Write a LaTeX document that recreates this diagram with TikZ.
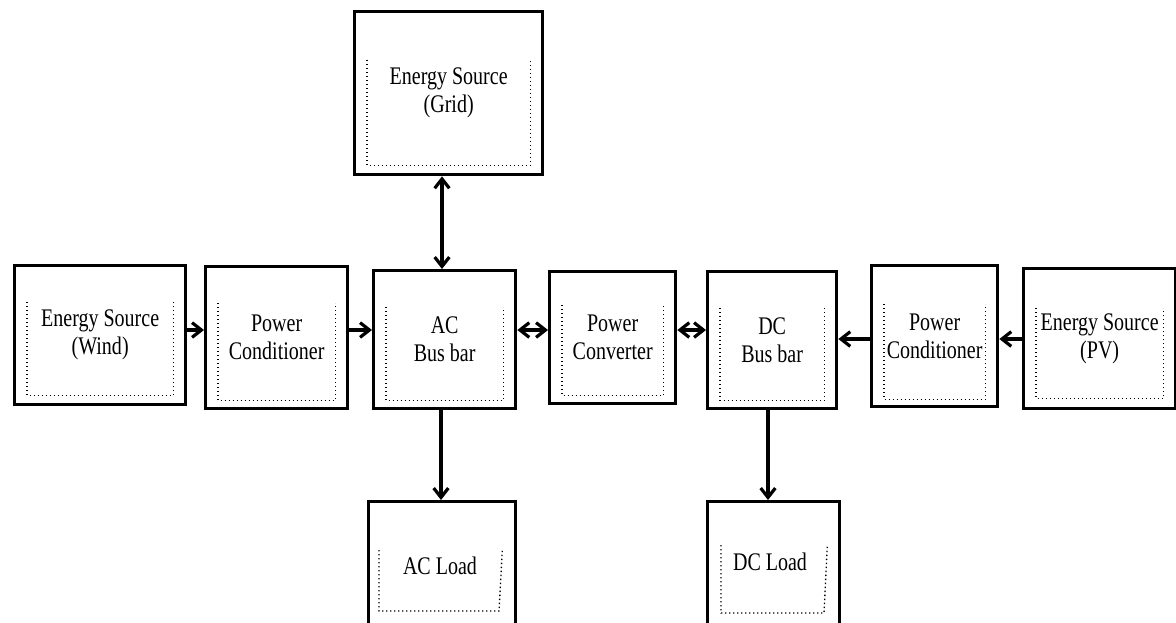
\documentclass[tikz,border=0pt]{standalone}
\usepackage{fontspec}
\setmainfont{Liberation Serif}
\newfontfamily\cond[FakeStretch=0.79]{Liberation Serif}
\usetikzlibrary{arrows.meta,calc}
\tikzset{
  txt/.style={font=\cond\fontsize{19}{21}\selectfont},
  blk/.style={draw, line width=2.5pt, inner sep=0pt, align=center, anchor=north west, txt},
  innerline/.style={line width=1pt, dotted},
  arr/.style={line width=2.4pt, -{Straight Barb[length=7pt,width=11pt]}},
  darr/.style={line width=2.4pt, {Straight Barb[length=7pt,width=11pt]}-{Straight Barb[length=7pt,width=11pt]}}
}
\newcommand\blk[6]{\node[blk, minimum width={(#4-#2)*0.75pt}, minimum height={(#5-#3)*0.75pt}] (#1) at (#2,#3) {#6};}
\newcommand\innerbox[3]{\draw[innerline] ($(#1.north west)+(14,#2)$) |- ($(#1.south east)+(-14,-#3)$) -- ($(#1.north east)+(-14,#2)$);}
\begin{document}
\begin{tikzpicture}[x=0.75pt,y=-0.75pt]
\clip (0,0) rectangle (1176,622);
\useasboundingbox[fill=white] (0,0) rectangle (1176,622);
\blk{grid}{353}{10}{541}{173}{Energy Source\\(Grid)}
\blk{wind}{13}{264}{184}{403}{Energy Source\\(Wind)}
\blk{pca}{204}{265}{346}{407}{Power\\Conditioner}
\blk{acb}{372}{269}{514}{407}{AC\\Bus bar}
\blk{pcv}{548}{270}{674}{402}{Power\\Converter}
\blk{dcb}{706}{270}{835}{407}{DC\\Bus bar}
\blk{pcb}{870}{264}{996}{405}{Power\\Conditioner}
\blk{pv}{1022}{267}{1174}{407}{Energy Source\\(PV)}
\blk{acl}{367}{500}{514}{636}{}
\blk{dcl}{706}{500}{838}{636}{}
\node[txt] (acltext) at (440,566) {AC Load};
\node[txt] (dcltext) at (770,562) {DC Load};
\innerbox{grid}{50}{11}
\innerbox{wind}{38}{11}
\innerbox{pca}{38}{10}
\innerbox{acb}{38}{10}
\innerbox{pcv}{35}{10}
\innerbox{dcb}{38}{10}
\innerbox{pcb}{40}{9}
\innerbox{pv}{41}{12}
\draw[innerline] ($(acl.north west)+(12,50)$) |- (499,611) -- ($(acl.north east)+(-15,50)$);
\draw[innerline] ($(dcl.north west)+(15,45)$) |- (824,613) -- ($(dcl.north east)+(-14,45)$);
% connectors
\draw[darr] (grid.south -| 442,0) -- (acb.north -| 442,0);
\draw[arr] (wind.east |- 0,330) -- (pca.west |- 0,330);
\draw[arr] (pca.east |- 0,330) -- (acb.west |- 0,330);
\draw[darr] (acb.east |- 0,330) -- (pcv.west |- 0,330);
\draw[darr] (pcv.east |- 0,330) -- (dcb.west |- 0,330);
\draw[arr] (pcb.west |- 0,339) -- (dcb.east |- 0,339);
\draw[arr] (pv.west |- 0,339) -- (pcb.east |- 0,339);
\draw[arr] (acb.south -| 441,0) -- (acl.north -| 441,0);
\draw[arr] (dcb.south -| 768,0) -- (dcl.north -| 768,0);
\end{tikzpicture}
\end{document}
